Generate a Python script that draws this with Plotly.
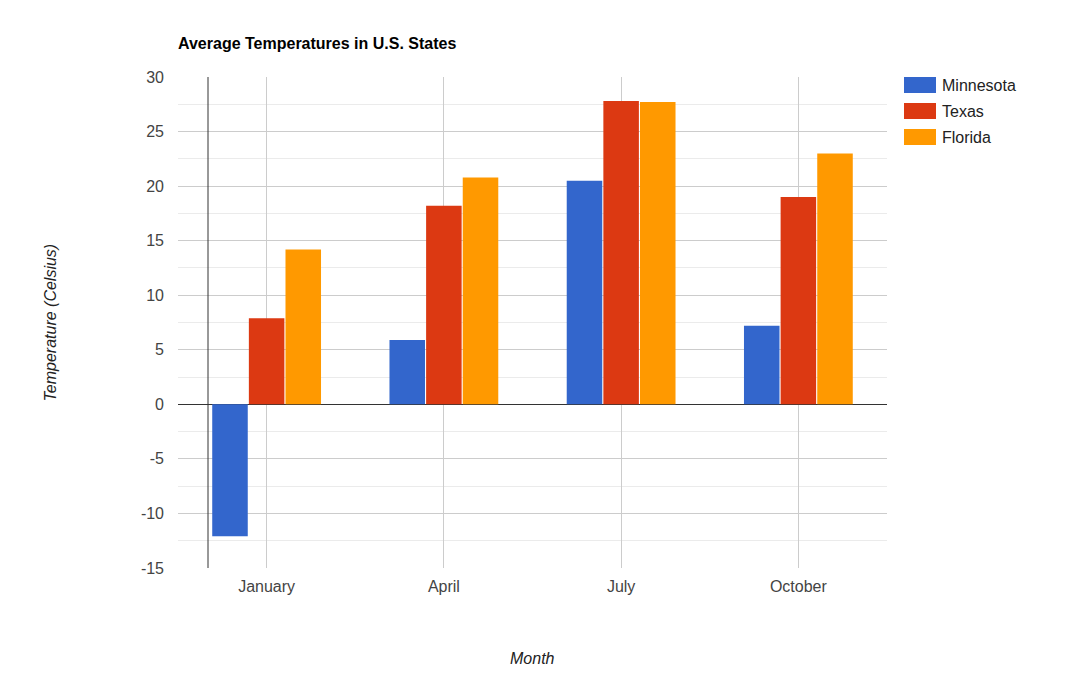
import plotly.graph_objects as go

months = ["January", "April", "July", "October"]
states = ["Minnesota", "Texas", "Florida"]
minnesota = [-12.1, 5.9, 20.5, 7.2]
texas = [7.9, 18.2, 27.8, 19.0]
florida = [14.2, 20.8, 27.7, 23.0]
colors = ["#3366cc", "#dc3912", "#ff9900"]
y_ticks = [-15, -10, -5, 0, 5, 10, 15, 20, 25, 30]

FONT = "Arial, Liberation Sans, sans-serif"
series = [minnesota, texas, florida]

# page offset of the figure (body margin)
OFF = 8
PL, PR, PT, PB = 178, 887, 77, 568  # plot area in page pixels
W, H = 1082, 679

fig = go.Figure()
for name, vals, col in zip(states, series, colors):
    fig.add_trace(go.Bar(x=months, y=vals, name=name, marker=dict(color=col, line=dict(width=0)),
                         showlegend=False))

fig.update_layout(
    width=W, height=H,
    margin=dict(l=PL - OFF, r=W - PR + OFF, t=PT - OFF, b=H - PB + OFF, autoexpand=False),
    paper_bgcolor="white", plot_bgcolor="white",
    barmode="group", bargap=0.38, bargroupgap=0.03,
    font=dict(family=FONT, size=16, color="#444444"),
    title=dict(text="<b>Average Temperatures in U.S. States</b>", x=0, xref="paper",
               y=1 - (43 - OFF) / H, yref="container", xanchor="left", yanchor="middle",
               font=dict(family=FONT, size=16, color="#000000")),
)
fig.update_xaxes(showgrid=True, gridcolor="#cccccc", gridwidth=1, showline=False,
                 zeroline=False, ticks="", ticklabelstandoff=7,
                 tickfont=dict(size=16, color="#444444"), automargin=False)
fig.update_yaxes(range=[-15, 30], tickvals=y_ticks, ticktext=[str(v) for v in y_ticks],
                 showgrid=True, gridcolor="#cccccc", gridwidth=1,
                 minor=dict(dtick=2.5, tick0=0, showgrid=True, gridcolor="#ebebeb", gridwidth=1),
                 zeroline=True, zerolinecolor="#333333", zerolinewidth=1,
                 showline=False, ticks="", ticklabelstandoff=13,
                 tickfont=dict(size=16, color="#444444"), automargin=False)

pw = PR - PL
ph = PB - PT

# vertical baseline
fig.add_shape(type="line", xref="paper", yref="paper", x0=30 / pw, x1=30 / pw, y0=0, y1=1,
              line=dict(color="#333333", width=1))

# axis titles
fig.add_annotation(text="<i>Month</i>", xref="paper", yref="paper", x=0.5, y=-(658 - PB) / ph,
                   showarrow=False, xanchor="center", yanchor="middle",
                   font=dict(family=FONT, size=16, color="#222222"))
fig.add_annotation(text="<i>Temperature (Celsius)</i>", xref="paper", yref="paper",
                   x=-(PL - 50) / pw, y=0.5, textangle=-90, showarrow=False,
                   xanchor="center", yanchor="middle",
                   font=dict(family=FONT, size=16, color="#222222"))

# legend
for i, (name, col) in enumerate(zip(states, colors)):
    cy = 85 + 26 * i
    y0 = (PB - (cy + 8)) / ph
    y1 = (PB - (cy - 8)) / ph
    fig.add_shape(type="rect", xref="paper", yref="paper",
                  x0=(904 - PL) / pw, x1=(936 - PL) / pw, y0=y0, y1=y1,
                  fillcolor=col, line=dict(width=0))
    fig.add_annotation(text=name, xref="paper", yref="paper", x=(940 - PL) / pw,
                       y=(PB - cy) / ph, xanchor="left", yanchor="middle", showarrow=False,
                       font=dict(family=FONT, size=16, color="#222222"))

fig.write_html("out.html")
